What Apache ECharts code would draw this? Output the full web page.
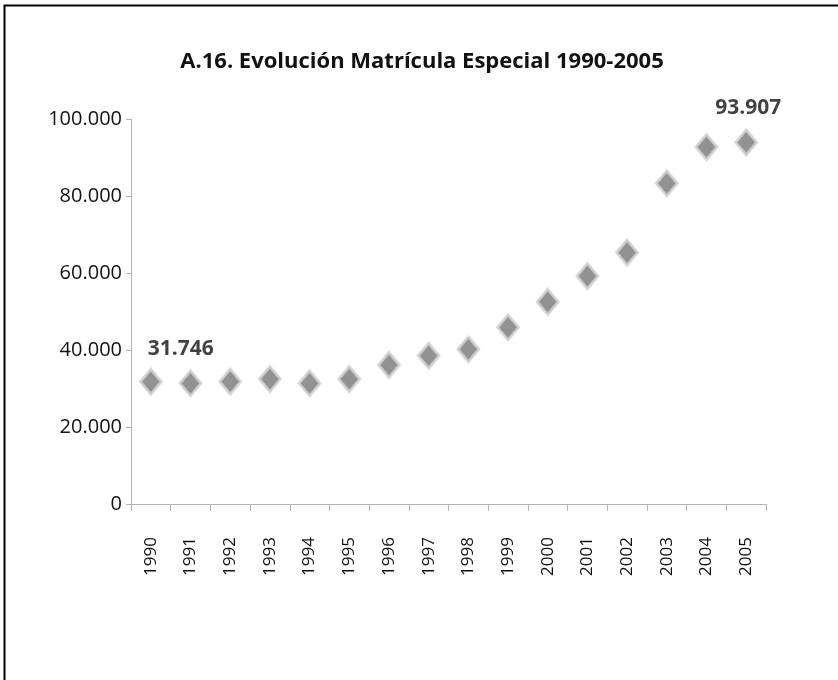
<!DOCTYPE html>
<html>
<head>
<meta charset="utf-8">
<script src="https://cdn.jsdelivr.net/npm/echarts@6/dist/echarts.min.js"></script>
<style>
html,body{margin:0;padding:0;background:#fff;}
#c{width:838px;height:680px;}
</style>
</head>
<body>
<div id="c"></div>
<script>
const titleText = 'A.16. Evolución Matrícula Especial 1990-2005';
const years = ['1990','1991','1992','1993','1994','1995','1996','1997','1998','1999','2000','2001','2002','2003','2004','2005'];
const enrolment = [31746, 31350, 31800, 32450, 31350, 32450, 36100, 38500, 40200, 45900, 52500, 59200, 65300, 83300, 92700, 93907];
const yTicks = [0, 20000, 40000, 60000, 80000, 100000];
const labelledIdx = [0, 15];

function fmt(v){ return String(v).replace(/\B(?=(\d{3})+(?!\d))/g, '.'); }

const chart = echarts.init(document.getElementById('c'));
const fontFam = '"Open Sans", "DejaVu Sans", sans-serif';

const seriesData = enrolment.map((v, i) => {
  const d = { value: v };
  if (labelledIdx.indexOf(i) >= 0) {
    d.label = {
      show: true,
      formatter: fmt(v),
      position: 'top',
      offset: i === 0 ? [30, -3] : [2, -5],
      fontFamily: fontFam,
      fontWeight: 'bold',
      fontSize: 21,
      color: '#111'
    };
  }
  return d;
});

chart.setOption({
  backgroundColor: '#fff',
  animation: false,
  title: {
    text: titleText,
    left: 417, top: 46, textAlign: 'center',
    textStyle: { fontFamily: fontFam, fontWeight: 'bold', fontSize: 22, color: '#111' }
  },
  graphic: [{
    type: 'rect', left: 2, top: 3,
    shape: { width: 900, height: 700 },
    style: { fill: 'none', stroke: '#000', lineWidth: 2 },
    silent: true
  }],
  grid: { left: 131, right: 72, top: 119, bottom: 176 },
  xAxis: {
    type: 'category',
    data: years,
    boundaryGap: true,
    axisLine: { lineStyle: { color: '#b3b3b3', width: 1 } },
    axisTick: { show: true, interval: 0, length: 7, lineStyle: { color: '#b3b3b3' } },
    axisLabel: { rotate: 90, interval: 0, margin: 33, fontFamily: fontFam, fontSize: 17, color: '#111' },
    splitLine: { show: false }
  },
  yAxis: {
    type: 'value',
    min: yTicks[0], max: yTicks[yTicks.length - 1], interval: yTicks[1] - yTicks[0],
    axisLine: { show: true, lineStyle: { color: '#b3b3b3', width: 1 } },
    axisTick: { show: true, length: 5, lineStyle: { color: '#b3b3b3' } },
    axisLabel: { formatter: fmt, margin: 9, fontFamily: fontFam, fontSize: 20, color: '#111' },
    splitLine: { show: false }
  },
  series: [{
    type: 'scatter',
    data: seriesData,
    symbol: 'diamond',
    symbolSize: [21, 25],
    itemStyle: { color: '#777777', borderColor: '#d2d2d2', borderWidth: 3 },
    label: { show: false }
  }]
});
</script>
</body>
</html>
